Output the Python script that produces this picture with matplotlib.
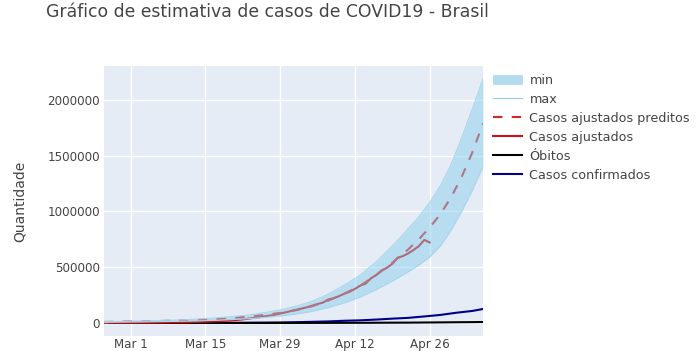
import matplotlib
matplotlib.use("Agg")
import matplotlib.pyplot as plt
import matplotlib.dates as mdates
from matplotlib.ticker import FuncFormatter, FixedLocator
from matplotlib.patches import Patch
from matplotlib.lines import Line2D
import numpy as np
import pandas as pd

plt.rcParams['font.family'] = ['DejaVu Sans']

# ---------------- data ----------------
# model curves (days from Mar 1, 2020)
model_days = [-5, -2, 1, 4, 7, 10, 13, 16, 19, 22, 25, 28, 31, 34, 37, 40, 43, 46,
              49, 52, 54, 56, 58, 60, 62, 64, 66]
pred_vals = [9000, 11000, 13000, 16000, 19000, 23000, 28000, 35000, 44000, 56000,
             71000, 90000, 115000, 150000, 200000, 262000, 335000, 430000, 540000,
             660000, 752000, 855000, 975000, 1125000, 1310000, 1530000, 1790000]
max_vals = [12000, 14000, 17000, 20000, 24000, 29000, 36000, 45000, 57000, 72000,
            92000, 117000, 150000, 195000, 258000, 338000, 430000, 550000, 690000,
            845000, 955000, 1080000, 1230000, 1420000, 1660000, 1920000, 2190000]
min_vals = [6000, 7500, 9000, 11000, 13000, 16000, 19000, 24000, 30000, 38000,
            49000, 62000, 80000, 104000, 138000, 180000, 232000, 300000, 375000,
            460000, 520000, 590000, 690000, 830000, 1000000, 1190000, 1400000]

adj_days = [-5, -3, -1, 1, 3, 5, 7, 9, 11, 13, 15, 17, 19, 21, 23, 25, 27, 29, 31, 33,
            35, 36, 37, 38, 39, 40, 41, 42, 43, 44, 45, 46, 47, 48, 49, 50, 51, 52,
            53, 54, 55, 56]
adj_vals = [1000, 1500, 2000, 2500, 3000, 4000, 5000, 6000, 8000, 10000, 13000, 17000,
            23000, 32000, 45000, 58000, 74000, 95000, 118000, 140000,
            170000, 182000, 210000, 222000, 240000, 262000, 280000, 305000, 335000,
            352000, 400000, 430000, 470000, 495000, 530000, 585000, 600000, 625000,
            655000, 690000, 745000, 722000]

conf_dates = ["2020-02-26", "2020-03-01", "2020-03-05", "2020-03-08", "2020-03-11",
              "2020-03-14", "2020-03-17", "2020-03-20", "2020-03-23", "2020-03-26",
              "2020-03-29", "2020-04-01", "2020-04-04", "2020-04-07", "2020-04-10",
              "2020-04-13", "2020-04-16", "2020-04-19", "2020-04-22", "2020-04-25",
              "2020-04-28", "2020-05-01", "2020-05-04", "2020-05-06"]
conf_vals = [1, 2, 8, 20, 52, 121, 291, 904, 1891, 2915, 4256, 6836, 10278, 13717,
             19638, 23430, 30425, 38654, 45757, 58509, 71886, 91589, 107780, 125218]
death_vals = [0, 0, 0, 0, 0, 0, 1, 11, 34, 77, 136, 241, 432, 667, 1056, 1328, 1924,
              2462, 2906, 4016, 5017, 6329, 7321, 8536]

xtick_dates = ["2020-03-01", "2020-03-15", "2020-03-29", "2020-04-12", "2020-04-26"]
xtick_labels = ["Mar 1", "Mar 15", "Mar 29", "Apr 12", "Apr 26"]
ytick_vals = [0, 500000, 1000000, 1500000, 2000000]

title = "Gráfico de estimativa de casos de COVID19 - Brasil"
ylabel = "Quantidade"

# ---------------- plot ----------------
base = pd.Timestamp("2020-03-01")
model_x = [base + pd.Timedelta(days=d) for d in model_days]
adj_x = [base + pd.Timedelta(days=d) for d in adj_days]
conf_x = pd.to_datetime(conf_dates)

fig = plt.figure(figsize=(6.96, 3.51), dpi=100)
ax = fig.add_axes([104/696, 1-336/351, (483-104)/696, (336-66)/351])
ax.set_facecolor("#E5ECF6")
for s in ax.spines.values():
    s.set_visible(False)

txt = "#444444"
lw = 1.5
band_fill = "#87CEEB"
band_line = "#a6d8ec"
ax.plot(conf_x, conf_vals, color="#00008B", lw=lw, zorder=3)
ax.plot(conf_x, death_vals, color="black", lw=lw, zorder=4)
ax.plot(adj_x, adj_vals, color="#d0101a", lw=lw, zorder=5)
ax.plot(model_x, pred_vals, color="#d62728", lw=lw, dashes=(4.5, 4.5), zorder=6)
ax.fill_between(model_x, min_vals, max_vals, color=band_fill, alpha=0.48, lw=0, zorder=7)
ax.plot(model_x, max_vals, color=band_line, lw=0.8, zorder=8)
ax.plot(model_x, min_vals, color=band_line, lw=0.8, zorder=8)

ax.set_xlim(pd.Timestamp("2020-02-25"), pd.Timestamp("2020-05-06"))
ax.set_ylim(-117000, 2305000)

ax.xaxis.set_major_locator(FixedLocator(mdates.date2num(pd.to_datetime(xtick_dates))))
ax.set_xticklabels(xtick_labels)
ax.yaxis.set_major_locator(FixedLocator(ytick_vals))
ax.yaxis.set_major_formatter(FuncFormatter(lambda v, p: f"{int(v)}"))
ax.tick_params(axis="y", length=0, labelsize=8.6, colors=txt, pad=3)
ax.tick_params(axis="x", length=0, labelsize=8.6, colors=txt, pad=1.5)
ax.grid(True, color="white", lw=1, zorder=0)
ax.set_axisbelow(True)

fig.text(46/696, 1-12/351, title, fontsize=12.4, color=txt, va="center", ha="left")
fig.text(20/696, 1-201/351, ylabel, fontsize=10, color=txt, rotation=90,
         va="center", ha="center")

handles = [
    Patch(facecolor="#b4dcee", edgecolor=band_line, lw=0.5),
    Line2D([], [], color="#8fcbe3", lw=0.8),
    Line2D([], [], color="#d62728", lw=lw, dashes=(4.5, 4.5)),
    Line2D([], [], color="#d0101a", lw=lw),
    Line2D([], [], color="black", lw=lw),
    Line2D([], [], color="#00008B", lw=lw),
]
labels = ["min", "max", "Casos ajustados preditos", "Casos ajustados", "Óbitos",
          "Casos confirmados"]
leg = fig.legend(handles, labels, loc="upper left", bbox_to_anchor=(493/696, 1-73.5/351),
                 frameon=False, fontsize=9.2, handlelength=2.3, handleheight=0.7,
                 handletextpad=0.55, labelspacing=0.47, borderpad=0, borderaxespad=0)
for t in leg.get_texts():
    t.set_color(txt)

fig.savefig("out.png", dpi=100)
